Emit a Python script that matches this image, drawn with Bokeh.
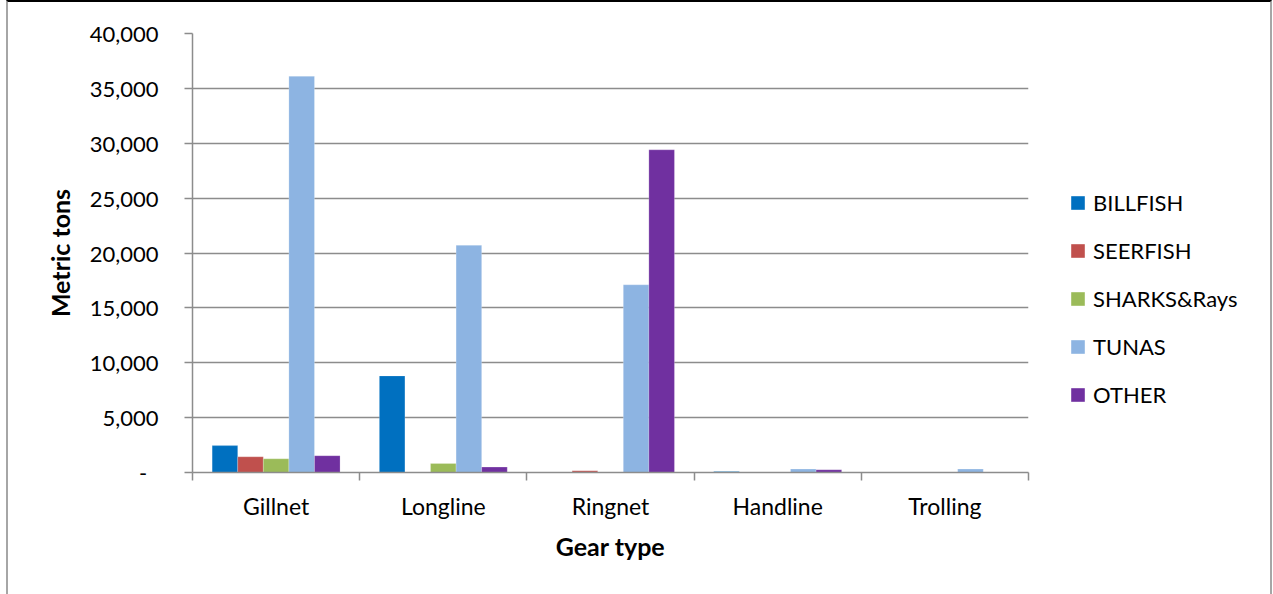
from bokeh.plotting import figure
from bokeh.layouts import row
from bokeh.models import (Range1d, FixedTicker, NumeralTickFormatter, Legend, LegendItem)
from bokeh.embed import file_html
from bokeh.resources import INLINE

# Catch by gear type and species group (metric tons)
gears = ["Gillnet", "Longline", "Ringnet", "Handline", "Trolling"]
billfish = [2450, 8800, 0, 80, 0]
seerfish = [1430, 0, 150, 0, 0]
sharks_rays = [1250, 820, 0, 0, 0]
tunas = [36100, 20700, 17100, 310, 310]
other = [1530, 490, 29400, 250, 0]

series_names = ["BILLFISH", "SEERFISH", "SHARKS&Rays", "TUNAS", "OTHER"]
series_values = [billfish, seerfish, sharks_rays, tunas, other]
series_colors = ["#0070C0", "#C0504D", "#9BBB59", "#8DB4E2", "#7030A0"]

y_ticks = [0, 5000, 10000, 15000, 20000, 25000, 30000, 35000, 40000]

FONT = "Lato"
GRID = "#8c8c8c"

# main chart
p = figure(width=1032, height=592, output_backend="svg", toolbar_location=None,
           x_range=Range1d(0, len(gears)), y_range=Range1d(0, 40000),
           min_border_left=184, min_border_right=12, min_border_top=31,
           min_border_bottom=122)
p.outline_line_color = None
p.xgrid.visible = False
p.ygrid.grid_line_color = GRID
p.ygrid.grid_line_width = 1.5

bar_w = 0.153
for k, (vals, col) in enumerate(zip(series_values, series_colors)):
    xs = [i + 0.5 + (k - 2) * bar_w for i in range(len(gears))]
    p.vbar(x=xs, top=vals, width=bar_w, bottom=0, fill_color=col,
           line_color="white", line_alpha=0.35, line_width=0.6)

# y axis
ya = p.yaxis[0]
ya.ticker = FixedTicker(ticks=y_ticks)
ya.formatter = NumeralTickFormatter(format="0,0")
ya.major_label_overrides = {0: "-\u00a0\u00a0"}
ya.minor_tick_line_color = None
ya.major_tick_in = 0
ya.major_tick_out = 8
ya.axis_line_color = GRID
ya.axis_line_width = 1.5
ya.major_tick_line_color = GRID
ya.major_tick_line_width = 1.5
ya.major_label_text_font = FONT
ya.major_label_text_font_size = "22px"
ya.major_label_text_color = "#000000"
ya.major_label_standoff = 26
ya.axis_label = "Metric tons"
ya.axis_label_text_font = FONT
ya.axis_label_text_font_size = "25px"
ya.axis_label_text_font_style = "bold"
ya.axis_label_text_color = "#000000"
ya.axis_label_standoff = 12

# x axis: labels at group centres, ticks at group boundaries
xa = p.xaxis[0]
xa.ticker = FixedTicker(ticks=[i + 0.5 for i in range(len(gears))],
                        minor_ticks=list(range(len(gears) + 1)))
xa.major_label_overrides = {i + 0.5: g for i, g in enumerate(gears)}
xa.major_tick_in = 0
xa.major_tick_out = 0
xa.minor_tick_in = 0
xa.minor_tick_out = 8
xa.minor_tick_line_color = GRID
xa.minor_tick_line_width = 1.5
xa.axis_line_color = GRID
xa.axis_line_width = 1.5
xa.major_label_text_font = FONT
xa.major_label_text_font_size = "23px"
xa.major_label_text_color = "#000000"
xa.major_label_standoff = 11
xa.axis_label = "Gear type"
xa.axis_label_text_font = FONT
xa.axis_label_text_font_size = "25px"
xa.axis_label_text_font_style = "bold"
xa.axis_label_text_color = "#000000"
xa.axis_label_standoff = 8

# legend panel beside the chart (its frame is aligned with the chart frame)
lg = figure(width=230, height=592, output_backend="svg", toolbar_location=None,
            x_range=Range1d(0, 1), y_range=Range1d(0, 1),
            min_border_left=0, min_border_right=0, min_border_top=0,
            min_border_bottom=0)
lg.axis.visible = False
lg.grid.visible = False
lg.outline_line_color = None

items = []
for name, col in zip(series_names, series_colors):
    # zero-height key bar, outside the visible range; only its legend swatch shows
    r = lg.vbar(x=[-1], top=[0], width=0.1, fill_color=col, line_color=None)
    items.append(LegendItem(label=name, renderers=[r]))

legend = Legend(items=items, location=(29, 64), orientation="vertical",
                glyph_width=17, glyph_height=17, label_height=20, spacing=21,
                label_standoff=7, padding=0, margin=0,
                border_line_color=None, background_fill_alpha=0,
                label_text_font=FONT, label_text_font_size="22px",
                label_text_color="#000000")
lg.add_layout(legend, "center")

layout = row(p, lg, spacing=0)
layout.styles = {"margin-left": "6px", "border-left": "2px solid #a6a6a6",
                 "border-right": "2px solid #a6a6a6",
                 "border-top": "2px solid #000000"}

open("out.html", "w").write(file_html(layout, INLINE))
